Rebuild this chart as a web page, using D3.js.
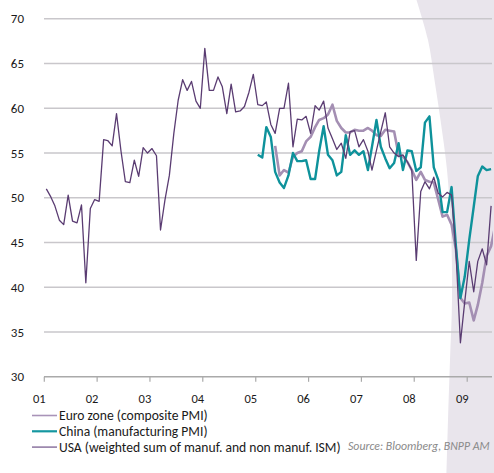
<!DOCTYPE html>
<html>
<head>
<meta charset="utf-8">
<script src="https://cdn.jsdelivr.net/npm/d3@7"></script>
<style>
  html, body { margin: 0; padding: 0; background: #fff; }
  svg { display: block; }
  text { font-family: Calibri, Carlito, Lato, sans-serif; fill: #1a1a1a; }
</style>
</head>
<body>
<div id="chart"></div>
<script>
// monthly values, USA Jan 2001 - Jun 2009
var usaStart = new Date(2001, 0, 15);
var usa = [
  51.0, 50.1, 49.1, 47.5, 47.0, 50.3, 47.4, 47.2, 49.2, 40.5, 48.8, 49.8,
  49.6, 56.5, 56.4, 55.8, 59.4, 55.2, 51.8, 51.7, 54.2, 52.4, 55.6, 55.0,
  55.5, 54.7, 46.4, 49.8, 52.5, 57.2, 60.9, 63.2, 62.0, 63.0, 60.8, 60.0,
  66.7, 62.0, 62.0, 63.5, 62.4, 59.4, 62.7, 59.6, 59.7, 60.2, 61.8, 63.8,
  60.4, 60.3, 60.7, 58.2, 57.2, 60.0, 60.0, 62.8, 55.7, 58.8, 58.7, 59.1,
  57.2, 60.3, 59.8, 60.8, 57.8, 56.6, 55.4, 56.1, 54.4, 57.4, 57.5, 55.7,
  56.5, 55.2, 53.1, 55.3, 57.4, 59.5, 55.7, 55.0, 54.6, 54.8, 54.0, 53.1,
  43.0, 50.7, 51.8, 51.0, 52.3, 50.5, 50.1, 50.6, 50.3, 44.0, 33.8, 38.4,
  42.9, 39.5, 42.9, 44.3, 42.5, 49.1
];

// Euro zone composite, May 2005 - Jul 2009
var euroStart = new Date(2005, 4, 15);
var euro = [
  55.8, 52.5, 53.1, 52.8, 54.6, 55.0, 55.2, 56.3,
  56.8, 57.9, 58.7, 58.9, 59.3, 60.4, 58.6, 57.8, 57.3, 57.3, 57.6, 57.5,
  57.5, 57.8, 57.5, 57.0, 56.9, 57.6, 57.5, 57.4, 54.8, 54.6, 54.0, 53.1,
  52.0, 52.9, 52.0, 51.8, 51.7, 49.8, 47.9, 48.1, 47.0, 44.2, 38.8, 38.2,
  38.3, 36.3, 38.0, 40.5, 43.5, 44.6, 47.0
];

// China manufacturing, Jan 2005 - Jun 2009
var chinaStart = new Date(2005, 0, 15);
var china = [
  54.8, 54.5, 57.9, 56.8, 52.9, 51.7, 51.1, 52.5, 55.0, 54.1, 54.1, 54.2,
  52.1, 52.1, 55.2, 58.0, 54.8, 54.2, 52.5, 52.9, 57.0, 54.8, 55.3, 54.8,
  55.2, 53.1, 55.7, 58.7, 55.7, 54.4, 53.3, 53.9, 56.1, 53.1, 55.3, 55.2,
  53.0, 53.4, 58.4, 59.1, 53.4, 52.0, 48.4, 48.4, 51.2, 44.6, 38.8, 41.2,
  45.3, 49.0, 52.4, 53.5, 53.1, 53.2
];

var yTicks = [30, 35, 40, 45, 50, 55, 60, 65, 70];
var yearLabels = ["01", "02", "03", "04", "05", "06", "07", "08", "09"];
var legendLabels = ["Euro zone (composite PMI)", "China (manufacturing PMI)", "USA (weighted sum of manuf. and non manuf. ISM)"];

var width = 494, height = 473,
    margin = {top: 19, right: 1, bottom: 96, left: 44};

var svg = d3.select("#chart").append("svg")
  .attr("width", width)
  .attr("height", height);

function toSeries(start, values) {
  return values.map(function(v, i) {
    return {date: d3.timeMonth.offset(start, i), value: v};
  });
}

var x = d3.scaleTime()
  .domain([new Date(2001, 0, 1), new Date(2010, 0, 1)])
  .range([margin.left + 0.3, margin.left + 0.3 + 9 * 52.86]);

var y = d3.scaleLinear()
  .domain([30, 70])
  .range([height - margin.bottom - 0.2, margin.top - 0.2]);

var plotRight = width - margin.right;

// shaded page-curl band on the right
var curl = [[416.5, 0], [428, 40], [434.5, 80], [440.5, 120], [447, 170], [451, 230],
            [452, 300], [450, 360], [448, 420], [446.5, 473]];
var curlPath = d3.line().curve(d3.curveCatmullRom)(curl);
svg.append("path")
  .attr("d", curlPath + "L" + width + "," + height + "L" + width + ",0Z")
  .attr("fill", "#e9e5ec");

// gridlines
svg.append("g")
  .selectAll("line")
  .data(yTicks.filter(function(d) { return d > 30; }))
  .enter().append("line")
  .attr("x1", margin.left)
  .attr("x2", plotRight - 1)
  .attr("y1", function(d) { return y(d); })
  .attr("y2", function(d) { return y(d); })
  .attr("stroke", "#c9c7cb")
  .attr("stroke-width", 1.4);

// y labels
svg.append("g")
  .selectAll("text")
  .data(yTicks)
  .enter().append("text")
  .attr("x", 24)
  .attr("y", function(d) { return y(d); })
  .attr("dy", "0.36em")
  .attr("text-anchor", "end")
  .style("font-size", "13px")
  .text(function(d) { return d; });

// x axis
var years = d3.range(2001, 2010).map(function(yr) { return new Date(yr, 0, 1); });
var xAxis = svg.append("g").attr("class", "xaxis");
xAxis.append("line")
  .attr("x1", margin.left)
  .attr("x2", plotRight - 1)
  .attr("y1", y(30))
  .attr("y2", y(30))
  .attr("stroke", "#aaaaaa")
  .attr("stroke-width", 1.5);
xAxis.selectAll(".tick")
  .data(years)
  .enter().append("line")
  .attr("x1", function(d) { return x(d); })
  .attr("x2", function(d) { return x(d); })
  .attr("y1", y(30))
  .attr("y2", y(30) + 5)
  .attr("stroke", "#aaaaaa")
  .attr("stroke-width", 1.2);
xAxis.selectAll("text")
  .data(years)
  .enter().append("text")
  .attr("x", function(d) { return x(d) - 5; })
  .attr("y", y(30) + 26.5)
  .attr("text-anchor", "middle")
  .style("font-size", "12.5px")
  .text(function(d, i) { return yearLabels[i]; });

// clip for series
svg.append("clipPath").attr("id", "plotclip")
  .append("rect")
  .attr("x", margin.left).attr("y", 0)
  .attr("width", plotRight - margin.left).attr("height", height);

var line = d3.line()
  .x(function(d) { return x(d.date); })
  .y(function(d) { return y(d.value); });

var series = [
  {name: legendLabels[0], data: toSeries(euroStart, euro), color: "#a48fb3", w: 2.6},
  {name: legendLabels[1], data: toSeries(chinaStart, china), color: "#0e929b", w: 2.4},
  {name: legendLabels[2], data: toSeries(usaStart, usa), color: "#5a3c72", w: 1.3}
];

var lines = svg.append("g").attr("clip-path", "url(#plotclip)");
series.forEach(function(s) {
  lines.append("path")
    .datum(s.data)
    .attr("fill", "none")
    .attr("stroke", s.color)
    .attr("stroke-width", s.w)
    .attr("stroke-linejoin", "round")
    .attr("d", line);
});

// legend
var legendColors = ["#a993b8", "#1597a0", "#8c74a0"];
var legendWidths = [1.6, 2.2, 1.5];
var legend = svg.append("g").attr("transform", "translate(32,415.5)");
legendLabels.forEach(function(label, i) {
  var row = legend.append("g").attr("transform", "translate(0," + (i * 15.8) + ")");
  row.append("line")
    .attr("x1", 0).attr("x2", 25)
    .attr("y1", 0).attr("y2", 0)
    .attr("stroke", legendColors[i])
    .attr("stroke-width", legendWidths[i]);
  row.append("text")
    .attr("x", 27)
    .attr("y", 0)
    .attr("dy", "0.36em")
    .style("font-size", "13.6px")
    .text(label);
});

svg.append("text")
  .attr("x", 348)
  .attr("y", 450)
  .style("font-size", "11.8px")
  .style("font-style", "italic")
  .style("fill", "#8a8a8a")
  .text("Source: Bloomberg, BNPP AM");
</script>
</body>
</html>
